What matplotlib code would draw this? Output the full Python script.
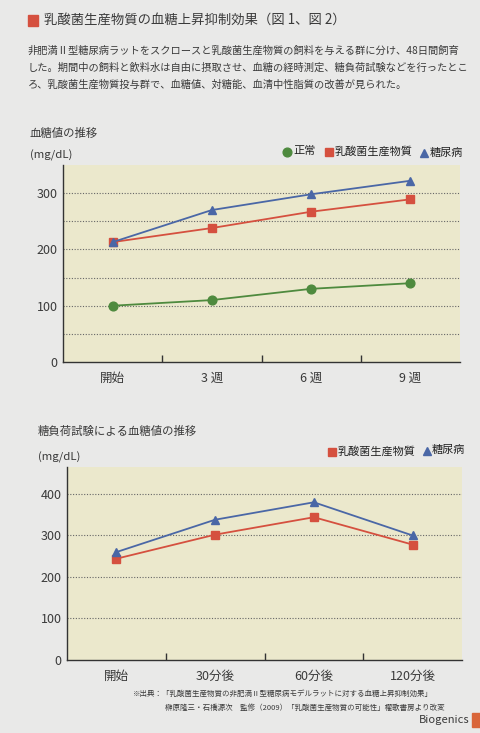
import matplotlib
matplotlib.use("Agg")
import matplotlib.pyplot as plt
from matplotlib.patches import Rectangle

plt.rcParams['font.family'] = ['Noto Sans CJK JP', 'DejaVu Sans']

# ---- data ----
weeks = ["開始", "3 週", "6 週", "9 週"]
normal = [100, 110, 130, 140]
lab_weeks = [213, 238, 267, 289]
diab_weeks = [213, 270, 298, 322]

ogtt = ["開始", "30分後", "60分後", "120分後"]
lab_ogtt = [244, 302, 344, 278]
diab_ogtt = [260, 338, 380, 300]

C_GREEN = "#4e8a3e"
C_RED = "#d5503f"
C_BLUE = "#4a67a6"
C_BG = "#e9e9e8"
C_PLOT = "#ebe8cc"
C_TXT = "#3a3a3a"

W, H = 480, 733
fig = plt.figure(figsize=(W / 100, H / 100), dpi=100)
fig.patch.set_facecolor(C_BG)


def px(x, y):
    return x / W, 1 - y / H


def ax_rect(l, t, r, b):
    return [l / W, 1 - b / H, (r - l) / W, (b - t) / H]


def text(x, y, s, size, **kw):
    fx, fy = px(x, y)
    kw.setdefault("color", C_TXT)
    kw.setdefault("va", "center")
    kw.setdefault("ha", "left")
    fig.text(fx, fy, s, fontsize=size, **kw)


def square(x0, y0, x1, y1, color):
    fx0, fy1 = px(x0, y0)
    fx1, fy0 = px(x1, y1)
    fig.patches.append(Rectangle((fx0, fy0), fx1 - fx0, fy1 - fy0,
                                 transform=fig.transFigure, color=color))


def marker(x, y, m, color, ms):
    fx, fy = px(x, y)
    fig.lines.append(plt.Line2D([fx], [fy], marker=m, ms=ms, color=color,
                                transform=fig.transFigure))


# ---- header ----
square(28, 15, 38, 26, C_RED)
text(44, 20, "乳酸菌生産物質の血糖上昇抑制効果（図 1、図 2）", 9.6)
para = [
    "非肥満Ⅱ型糖尿病ラットをスクロースと乳酸菌生産物質の飼料を与える群に分け、48日間飼育",
    "した。期間中の飼料と飲料水は自由に摂取させ、血糖の経時測定、糖負荷試験などを行ったとこ",
    "ろ、乳酸菌生産物質投与群で、血糖値、対糖能、血清中性脂質の改善が見られた。",
]
for i, line in enumerate(para):
    text(28, 51 + i * 17, line, 7.4)


def style_axes(ax, ylim, grid_vals, yticks):
    ax.set_facecolor(C_PLOT)
    for s in ["top", "right"]:
        ax.spines[s].set_visible(False)
    for s in ["left", "bottom"]:
        ax.spines[s].set_color("#333333")
        ax.spines[s].set_linewidth(1.0)
    ax.set_xlim(-0.5, 3.5)
    ax.set_ylim(*ylim)
    ax.set_yticks(yticks)
    ax.tick_params(axis="y", length=0, labelsize=9, labelcolor=C_TXT, pad=4)
    ax.set_xticks(range(4))
    ax.set_xticks([0.5, 1.5, 2.5], minor=True)
    ax.tick_params(axis="x", which="major", length=0, labelsize=9,
                   labelcolor=C_TXT, pad=7)
    ax.tick_params(axis="x", which="minor", direction="in", length=5,
                   width=1, color="#333333")
    for g in grid_vals:
        ax.axhline(g, color="#666666", lw=0.8, ls=(0, (1, 1.5)), zorder=1)


# ---- chart 1 ----
ax1 = fig.add_axes(ax_rect(63, 165, 460, 362))
style_axes(ax1, (0, 350), [50, 100, 150, 200, 250, 300], [0, 100, 200, 300])
ax1.set_xticklabels(weeks)
x = range(len(weeks))
ax1.plot(x, normal, color=C_GREEN, lw=1.3, marker="o", ms=6.3, zorder=3)
ax1.plot(x, lab_weeks, color=C_RED, lw=1.3, marker="s", ms=6.2, zorder=3)
ax1.plot(x, diab_weeks, color=C_BLUE, lw=1.3, marker="^", ms=6, zorder=4)

text(30, 133, "血糖値の推移", 8.2)
text(30, 155, "(mg/dL)", 8.2)
marker(287, 152, "o", C_GREEN, 6.3)
text(293, 151, "正常", 8.0, color="#222222")
marker(329, 152, "s", C_RED, 6.2)
text(335, 151, "乳酸菌生産物質", 8.0, color="#222222")
marker(424, 153, "^", C_BLUE, 6)
text(430, 153, "糖尿病", 8.0, color="#222222")

# ---- chart 2 ----
ax2 = fig.add_axes(ax_rect(67, 467, 462, 660))
style_axes(ax2, (0, 465), [100, 200, 300, 400], [0, 100, 200, 300, 400])
ax2.set_xticklabels(ogtt)
x = range(len(ogtt))
ax2.plot(x, lab_ogtt, color=C_RED, lw=1.3, marker="s", ms=6.2, zorder=3)
ax2.plot(x, diab_ogtt, color=C_BLUE, lw=1.3, marker="^", ms=6, zorder=4)

text(38, 431, "糖負荷試験による血糖値の推移", 8.2)
text(38, 457, "(mg/dL)", 8.2)
marker(332, 452, "s", C_RED, 6.2)
text(338, 451, "乳酸菌生産物質", 8.0, color="#222222")
marker(427, 451, "^", C_BLUE, 6)
text(432, 450, "糖尿病", 8.0, color="#222222")

# ---- footer ----
text(133, 694, "※出典：「乳酸菌生産物質の非肥満Ⅱ型糖尿病モデルラットに対する血糖上昇抑制効果」", 5.4)
text(165, 708, "榊原隆三・石橋源次　監修（2009）「乳酸菌生産物質の可能性」櫂歌書房より改変", 5.4)
text(469, 720, "Biogenics", 8.0, ha="right")
square(472, 713, 480, 727, "#d9663a")

fig.savefig("out.png", dpi=100, facecolor=C_BG)
